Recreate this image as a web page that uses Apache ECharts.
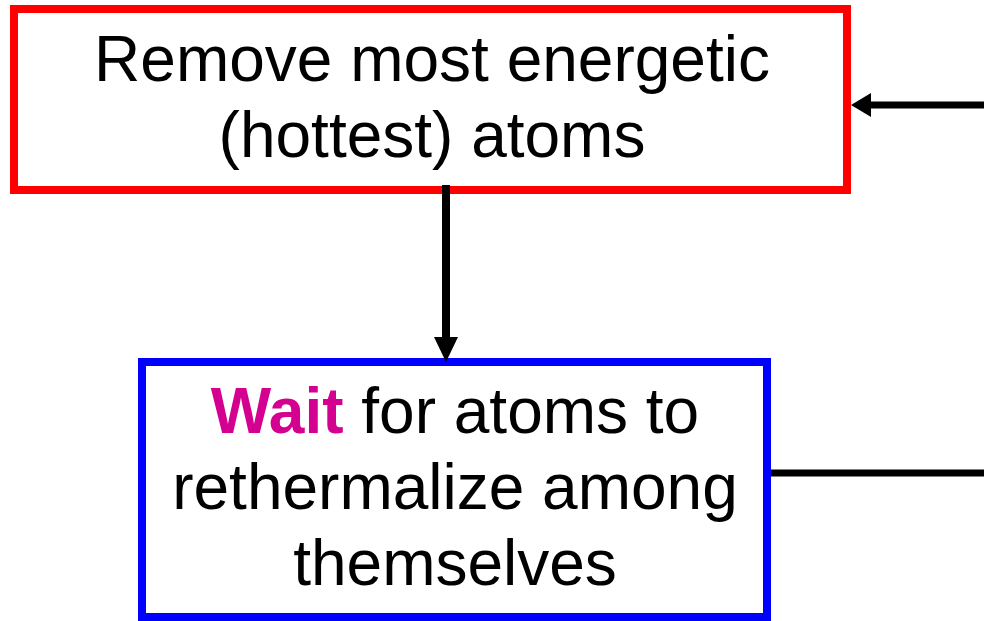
<!DOCTYPE html>
<html>
<head>
<meta charset="utf-8">
<script src="https://cdn.jsdelivr.net/npm/echarts@6/dist/echarts.min.js"></script>
<style>
  html, body { margin: 0; padding: 0; background: #fff; }
  #main { width: 984px; height: 621px; }
</style>
</head>
<body>
<div id="main"></div>
<script>
// box texts and colours
var redLines = ['Remove most energetic', '(hottest) atoms'];
var blueLines = ['{w|Wait} for atoms to', 'rethermalize among', 'themselves'];
var boxColors = ['#ff0000', '#0000ff'];
var waitColor = '#d4008f';

var chart = echarts.init(document.getElementById('main'));

var font = '64px "Liberation Sans", Arial, sans-serif';

function textLines(lines, cx, y0, step) {
  return lines.map(function (t, i) {
    return {
      type: 'text',
      x: cx,
      y: y0 + i * step,
      style: {
        text: t,
        font: font,
        fill: '#000',
        align: 'center',
        verticalAlign: 'middle',
        rich: {
          w: { font: 'bold 64px "Liberation Sans", Arial, sans-serif', fill: waitColor, color: waitColor }
        }
      }
    };
  });
}

function arrowHead(points) {
  return { type: 'polygon', shape: { points: points }, style: { fill: '#000' } };
}

var elements = [
  { type: 'rect', shape: { x: 14, y: 9, width: 833, height: 181 },
    style: { fill: '#fff', stroke: boxColors[0], lineWidth: 8 } },
  { type: 'rect', shape: { x: 142, y: 362, width: 625, height: 255 },
    style: { fill: '#fff', stroke: boxColors[1], lineWidth: 8 } },
  // arrow into red box from the right
  { type: 'line', shape: { x1: 990, y1: 105, x2: 866, y2: 105 },
    style: { stroke: '#000', lineWidth: 7 } },
  arrowHead([[851, 105], [871, 93], [871, 117]]),
  // arrow down from red box to blue box
  { type: 'line', shape: { x1: 446, y1: 185, x2: 446, y2: 342 },
    style: { stroke: '#000', lineWidth: 8 } },
  arrowHead([[446, 362], [434, 337], [458, 337]]),
  // line out of blue box to the right
  { type: 'line', shape: { x1: 771, y1: 473, x2: 990, y2: 473 },
    style: { stroke: '#000', lineWidth: 7 } }
];

elements = elements.concat(textLines(redLines, 432, 63, 76));
elements = elements.concat(textLines(blueLines, 455, 415, 76));

chart.setOption({
  backgroundColor: '#fff',
  animation: false,
  graphic: { elements: elements }
});
</script>
</body>
</html>
